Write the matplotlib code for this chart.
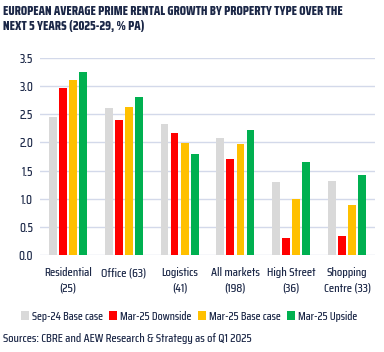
import matplotlib
matplotlib.use('Agg')
import matplotlib.pyplot as plt
import numpy as np

categories = ['Residential\n(25)', 'Office (63)', 'Logistics\n(41)', 'All markets\n(198)',
              'High Street\n(36)', 'Shopping\nCentre (33)']
series_names = ['Sep-24 Base case', 'Mar-25 Downside', 'Mar-25 Base case', 'Mar-25 Upside']
sep24_base = [2.46, 2.62, 2.33, 2.08, 1.30, 1.32]
mar25_down = [2.97, 2.40, 2.17, 1.71, 0.30, 0.34]
mar25_base = [3.11, 2.63, 1.99, 1.98, 1.00, 0.89]
mar25_up = [3.26, 2.81, 1.80, 2.22, 1.65, 1.42]
yticks = [0.0, 0.5, 1.0, 1.5, 2.0, 2.5, 3.0, 3.5]

colors = ['#D9D9D9', '#FF0000', '#FFC000', '#00B050']
text_color = '#1B2747'
plt.rcParams['font.family'] = ['Saira Condensed', 'DejaVu Sans']
plt.rcParams['font.weight'] = 500

fig = plt.figure(figsize=(3.84, 3.52), dpi=100)
ax = fig.add_axes([40 / 384, 1 - 255 / 352, 335 / 384, 197 / 352])

x = np.arange(len(categories))
pitch = 0.18
width = 0.14
all_series = [sep24_base, mar25_down, mar25_base, mar25_up]
for i, (vals, name) in enumerate(zip(all_series, series_names)):
    ax.bar(x + (i - 1.5) * pitch, vals, width, color=colors[i], label=name, zorder=3)

ax.set_xlim(-0.5, len(categories) - 0.5)
ax.set_ylim(0, 3.5)
ax.set_yticks(yticks)
ax.set_yticklabels(['%.1f' % v for v in yticks], fontsize=9, color=text_color)
ax.set_xticks(x)
ax.set_xticklabels(categories, fontsize=8.8, color=text_color, linespacing=1.45)
ax.tick_params(axis='x', length=0, pad=9)
ax.tick_params(axis='y', length=0, pad=5)
ax.grid(axis='y', color='#D3D9EA', linewidth=1, zorder=0)
for s in ax.spines.values():
    s.set_visible(False)

fig.text(3 / 384, 1 - 5 / 352, 'EUROPEAN AVERAGE PRIME RENTAL GROWTH BY PROPERTY TYPE OVER THE\nNEXT 5 YEARS (2025-29, % PA)',
         fontsize=9, fontweight=800, color=text_color, va='top', ha='left', linespacing=1.15)

fig.legend(loc='center', bbox_to_anchor=(189 / 384, 1 - 316 / 352), ncol=4, frameon=False,
           handlelength=0.7, handleheight=0.7, handletextpad=0.3, columnspacing=0.5,
           labelcolor=text_color, prop={'size': 8.3, 'weight': 500})

fig.text(3 / 384, 1 - 339 / 352, 'Sources: CBRE and AEW Research & Strategy as of Q1 2025',
         fontsize=8.7, color=text_color, va='center', ha='left')

fig.savefig('out.png', dpi=100)
